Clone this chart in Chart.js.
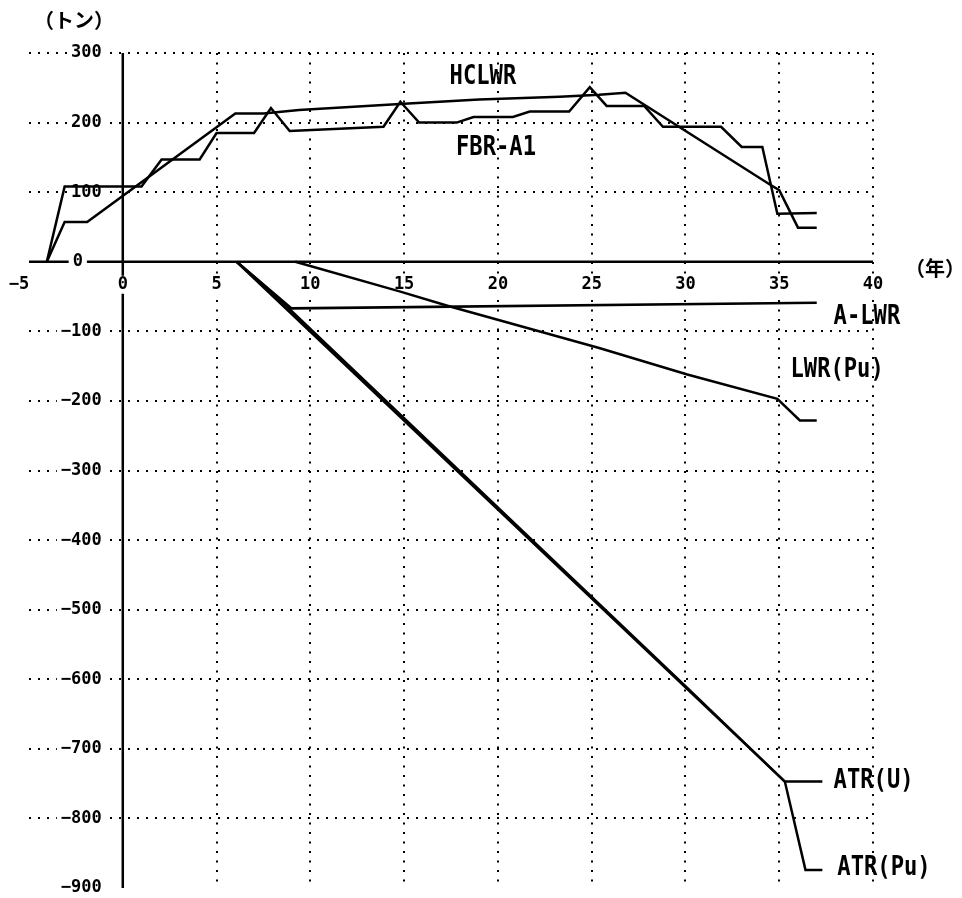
<!DOCTYPE html>
<html>
<head>
<meta charset="utf-8">
<script src="https://cdn.jsdelivr.net/npm/chart.js@4.4.1/dist/chart.umd.min.js"></script>
<style>
  body { margin: 0; background: #fff; }
  canvas { display: block; }
</style>
</head>
<body>
<canvas id="chart" width="962" height="898"></canvas>
<script>
// axis ticks (年 / トン)
const xTicks = [-5, 0, 5, 10, 15, 20, 25, 30, 35, 40];
const yTicks = [300, 200, 100, 0, -100, -200, -300, -400, -500, -600, -700, -800, -900];

// series as [年, トン] pairs
const hclwr = [[-4.05, 0], [-3.1, 57], [-1.9, 57], [6, 213], [7.5, 213], [9.4, 218], [15, 227],
  [19, 233], [23.3, 237], [25.4, 240], [26.8, 243], [34.5, 111], [35, 103], [36, 49], [37, 49]];
const fbrA1 = [[-4.05, 0], [-3.1, 108], [1.0, 108], [2.07, 147], [4.1, 147], [5.0, 185], [7.0, 185],
  [7.9, 221], [8.9, 188], [13.9, 194], [14.8, 230], [15.8, 200], [17.8, 200], [18.7, 208], [20.8, 208],
  [21.7, 216], [23.8, 216], [24.9, 251], [25.8, 224], [27.8, 224], [28.8, 194], [31.9, 194], [33.0, 165],
  [34.1, 165], [34.9, 69], [37, 70]];
const aLwr = [[6.07, 0], [9, -67], [37, -59]];
const lwrPu = [[9.2, 0], [14.8, -43], [17.4, -64], [25.4, -124], [30.1, -162], [34.9, -197], [36.1, -228], [37, -228]];
const atrU = [[6.07, 0], [35.3, -747], [37.3, -747]];
const atrPu = [[6.07, 0], [8, -45], [30, -610], [35.3, -747], [36.4, -874], [37.3, -874]];

// series names and where they are written (data coords, left/center anchor)
const seriesLabels = [
  { text: 'HCLWR', x: 19.2, y: 266, align: 'center' },
  { text: 'FBR-A1', x: 19.9, y: 164, align: 'center' },
  { text: 'A-LWR', x: 37.9, y: -79, align: 'left' },
  { text: 'LWR(Pu)', x: 35.6, y: -155, align: 'left' },
  { text: 'ATR(U)', x: 37.9, y: -746, align: 'left' },
  { text: 'ATR(Pu)', x: 38.1, y: -871, align: 'left' }
];

const toPoints = arr => arr.map(([x, y]) => ({ x, y }));
const fmt = v => (v < 0 ? '\u2212' + Math.abs(v) : String(v));

const lineStyle = { borderColor: '#000', borderWidth: 2.5, pointRadius: 0, tension: 0, fill: false };

const axisDecor = {
  id: 'axisDecor',
  beforeDatasetsDraw(chart) {
    const { ctx, chartArea: a, scales: { x, y } } = chart;
    const x0 = x.getPixelForValue(0);
    const y0 = y.getPixelForValue(0);
    ctx.save();
    ctx.strokeStyle = '#000';
    ctx.lineWidth = 2.5;
    ctx.beginPath();
    ctx.moveTo(a.left, y0); ctx.lineTo(a.right, y0);
    ctx.moveTo(x0, a.top); ctx.lineTo(x0, a.bottom);
    ctx.stroke();

    ctx.font = 'bold 17px "DejaVu Sans Mono"';
    ctx.textBaseline = 'middle';
    // y tick labels sit left of the vertical axis, over the dotted grid
    yTicks.forEach(v => {
      const t = fmt(v);
      const w = ctx.measureText(t).width;
      const py = y.getPixelForValue(v);
      const left = v === 0 ? x.getPixelForValue(-2.4) - w / 2 : x0 - 21 - w;
      ctx.fillStyle = '#fff';
      ctx.fillRect(left - 4, py - 8, w + 8, 16);
      ctx.fillStyle = '#000';
      ctx.fillText(t, left, py);
    });
    // x tick labels just under the horizontal axis
    xTicks.forEach(v => {
      const t = fmt(v);
      const w = ctx.measureText(t).width;
      let px = x.getPixelForValue(v) - w / 2;
      if (v < 0) px -= 10;
      const py = y0 + 23;
      ctx.fillStyle = '#fff';
      ctx.fillRect(px - 3, py - 9, w + 6, 18);
      ctx.fillStyle = '#000';
      ctx.fillText(t, px, py);
    });
    ctx.restore();
  },
  afterDraw(chart) {
    const { ctx, scales: { x, y } } = chart;
    ctx.save();
    ctx.fillStyle = '#000';
    ctx.textBaseline = 'middle';
    ctx.font = 'bold 27px "DejaVu Sans Mono"';
    seriesLabels.forEach(l => {
      const w = ctx.measureText(l.text).width * 0.82;
      let px = x.getPixelForValue(l.x);
      if (l.align === 'center') px -= w / 2;
      ctx.save();
      ctx.translate(px, y.getPixelForValue(l.y));
      ctx.scale(0.82, 1);
      ctx.fillText(l.text, 0, 0);
      ctx.restore();
    });
    ctx.font = 'bold 20px "Noto Sans CJK JP"';
    ctx.fillText('（トン）', 34, 20);
    ctx.fillText('（年）', 905, 268);
    ctx.restore();
  }
};

new Chart(document.getElementById('chart'), {
  type: 'line',
  data: {
    datasets: [
      { label: 'HCLWR', data: toPoints(hclwr), ...lineStyle },
      { label: 'FBR-A1', data: toPoints(fbrA1), ...lineStyle },
      { label: 'A-LWR', data: toPoints(aLwr), ...lineStyle },
      { label: 'LWR(Pu)', data: toPoints(lwrPu), ...lineStyle },
      { label: 'ATR(U)', data: toPoints(atrU), ...lineStyle },
      { label: 'ATR(Pu)', data: toPoints(atrPu), ...lineStyle }
    ]
  },
  options: {
    responsive: false,
    animation: false,
    devicePixelRatio: 1,
    layout: { padding: { left: 29, top: 53, right: 89, bottom: 10 } },
    plugins: { legend: { display: false }, tooltip: { enabled: false } },
    scales: {
      x: {
        type: 'linear', min: -5, max: 40,
        ticks: { display: false, stepSize: 5 },
        grid: {
          drawTicks: false, lineWidth: 2,
          color: c => (c.tick.value <= 0 ? 'rgba(0,0,0,0)' : '#000')
        },
        border: { display: false, dash: [2, 7.5] },
        afterFit: s => { s.height = 0; }
      },
      y: {
        type: 'linear', min: -900, max: 300,
        ticks: { display: false, stepSize: 100 },
        grid: {
          drawTicks: false, lineWidth: 2,
          color: c => (c.tick.value === -900 || c.tick.value === 0 ? 'rgba(0,0,0,0)' : '#000')
        },
        border: { display: false, dash: [2, 7] },
        afterFit: s => { s.width = 0; }
      }
    }
  },
  plugins: [axisDecor]
});
</script>
</body>
</html>
